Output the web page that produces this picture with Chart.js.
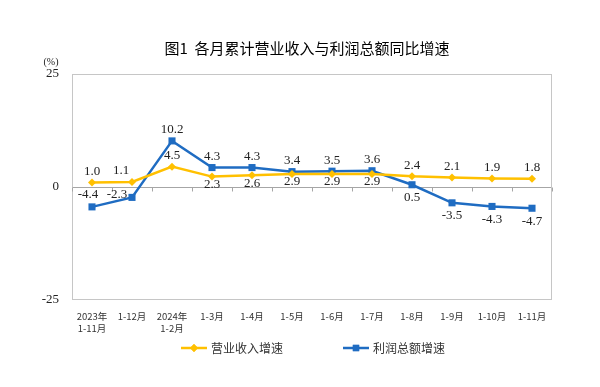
<!DOCTYPE html>
<html>
<head>
<meta charset="utf-8">
<script src="https://cdn.jsdelivr.net/npm/chart.js@4/dist/chart.umd.min.js"></script>
<style>
  html, body { margin: 0; padding: 0; background: #fff; }
  #wrap { width: 600px; height: 387px; position: relative; }
</style>
</head>
<body>
<div id="wrap"><canvas id="c" width="600" height="387"></canvas></div>
<script>
// ---- data ----
const categories = [['2023年', '1-11月'], '1-12月', ['2024年', '1-2月'], '1-3月', '1-4月', '1-5月', '1-6月', '1-7月', '1-8月', '1-9月', '1-10月', '1-11月'];
const revenueGrowth = [1.0, 1.1, 4.5, 2.3, 2.6, 2.9, 2.9, 2.9, 2.4, 2.1, 1.9, 1.8];
const profitGrowth = [-4.4, -2.3, 10.2, 4.3, 4.3, 3.4, 3.5, 3.6, 0.5, -3.5, -4.3, -4.7];
const yTickValues = [-25, 0, 25];
const seriesNames = ['营业收入增速', '利润总额增速'];
const chartTitle = '图1  各月累计营业收入与利润总额同比增速';
const unitLabel = '(%)';

// label placement codes (a = above, b = below, l = left, al = above-left)
const revenueLabelPlace = ['a', 'al', 'a', 'b', 'b', 'b', 'b', 'b', 'a', 'a', 'a', 'a'];
const profitLabelPlace = ['al', 'l', 'a', 'a', 'a', 'a', 'a', 'a', 'b', 'b', 'b', 'b'];

const YELLOW = '#FFC000';
const BLUE = '#1F6CC2';
const SERIF = '"Liberation Serif", "Times New Roman", serif';
const CJK = '"Noto Sans CJK SC", sans-serif';

const helperPlugin = {
  id: 'helper',
  beforeDatasetsDraw(chart) {
    const { ctx, chartArea: a, scales } = chart;
    ctx.save();
    // plot box
    ctx.strokeStyle = '#C6C6C6';
    ctx.lineWidth = 1;
    ctx.strokeRect(Math.round(a.left) + 0.5, Math.round(a.top) + 0.5, Math.round(a.right - a.left) - 1, Math.round(a.bottom - a.top) - 1);
    // ticks on zero line at category boundaries
    const x = scales.x, y = scales.y;
    const y0 = Math.round(y.getPixelForValue(0)) + 0.5;
    const n = categories.length;
    const step = (x.getPixelForValue(1) - x.getPixelForValue(0));
    ctx.strokeStyle = '#A6A6A6';
    ctx.beginPath();
    for (let i = 0; i <= n; i++) {
      const px = Math.round(x.getPixelForValue(0) - step / 2 + i * step) + 0.5;
      ctx.moveTo(px, y0);
      ctx.lineTo(px, y0 + 4);
    }
    ctx.stroke();
    ctx.restore();
  },
  afterDatasetsDraw(chart) {
    const { ctx } = chart;
    ctx.save();
    ctx.font = '13px ' + SERIF;
    ctx.fillStyle = '#222';
    ctx.textAlign = 'center';
    ctx.textBaseline = 'middle';
    const places = [revenueLabelPlace, profitLabelPlace];
    const belowOff = [8, 13];
    chart.data.datasets.forEach((ds, di) => {
      const meta = chart.getDatasetMeta(di);
      meta.data.forEach((pt, i) => {
        const p = places[di][i];
        let dx = 0, dy = -11;
        if (p === 'b') dy = belowOff[di];
        else if (p === 'l') { dx = -15; dy = -3; }
        else if (p === 'al') { dx = di === 0 ? -11 : -4; dy = di === 0 ? -11 : -12; }
        ctx.fillText(ds.data[i].toFixed(1), pt.x + dx, pt.y + dy);
      });
    });
    ctx.restore();
  },
  afterDraw(chart) {
    const { ctx, chartArea: a } = chart;
    ctx.save();
    // title
    ctx.font = '15px ' + CJK;
    ctx.fillStyle = '#000';
    ctx.textAlign = 'center';
    ctx.textBaseline = 'middle';
    ctx.fillText(chartTitle, 307, 48);
    // unit label
    ctx.font = '10px ' + SERIF;
    ctx.fillStyle = '#222';
    ctx.fillText(unitLabel, 51, 62);
    // legend
    const items = [
      { x: 181, color: YELLOW, style: 'rectRot' },
      { x: 343, color: BLUE, style: 'rect' }
    ];
    const ly = 348;
    items.forEach((it, i) => {
      ctx.strokeStyle = it.color;
      ctx.lineWidth = 2.5;
      ctx.beginPath();
      ctx.moveTo(it.x, ly);
      ctx.lineTo(it.x + 26, ly);
      ctx.stroke();
      ctx.fillStyle = it.color;
      Chart.helpers.drawPoint(ctx, { pointStyle: it.style, radius: it.style === 'rect' ? 4.5 : 4, borderWidth: 0 }, it.x + 13, ly);
      ctx.fill();
      ctx.fillStyle = '#333';
      ctx.font = '12px ' + CJK;
      ctx.textAlign = 'left';
      ctx.textBaseline = 'middle';
      ctx.fillText(chart.data.datasets[i].label, it.x + 30, ly);
    });
    ctx.restore();
  }
};

new Chart(document.getElementById('c'), {
  type: 'line',
  data: {
    labels: categories,
    datasets: [
      {
        label: seriesNames[0],
        data: revenueGrowth,
        borderColor: YELLOW,
        backgroundColor: YELLOW,
        borderWidth: 2.5,
        pointStyle: 'rectRot',
        pointRadius: 4,
        pointBorderWidth: 0,
        tension: 0
      },
      {
        label: seriesNames[1],
        data: profitGrowth,
        borderColor: BLUE,
        backgroundColor: BLUE,
        borderWidth: 2.5,
        pointStyle: 'rect',
        pointRadius: 5,
        pointBorderWidth: 0,
        tension: 0
      }
    ]
  },
  options: {
    responsive: false,
    animation: false,
    devicePixelRatio: 1,
    layout: { padding: { top: 74, left: 0, right: 48, bottom: 0 } },
    plugins: {
      legend: { display: false },
      tooltip: { enabled: false },
      title: { display: false }
    },
    scales: {
      x: {
        type: 'category',
        offset: true,
        grid: { display: false, drawTicks: false },
        border: { display: false },
        ticks: {
          autoSkip: false,
          maxRotation: 0,
          minRotation: 0,
          padding: 10,
          color: '#333',
          font: { family: CJK, size: 9.5, lineHeight: 1.3 }
        },
        afterFit(s) { s.height = 87; }
      },
      y: {
        min: -25,
        max: 25,
        afterBuildTicks(s) { s.ticks = yTickValues.map(v => ({ value: v })); },
        grid: {
          drawTicks: false,
          lineWidth: 1,
          color: (c) => (c.tick && c.tick.value === 0 ? '#A6A6A6' : 'rgba(0,0,0,0)')
        },
        border: { display: false },
        ticks: {
          padding: 13,
          color: '#222',
          font: { family: SERIF, size: 13 },
          callback: (v) => String(v)
        },
        afterFit(s) { s.width = 72; }
      }
    }
  },
  plugins: [helperPlugin]
});
</script>
</body>
</html>
